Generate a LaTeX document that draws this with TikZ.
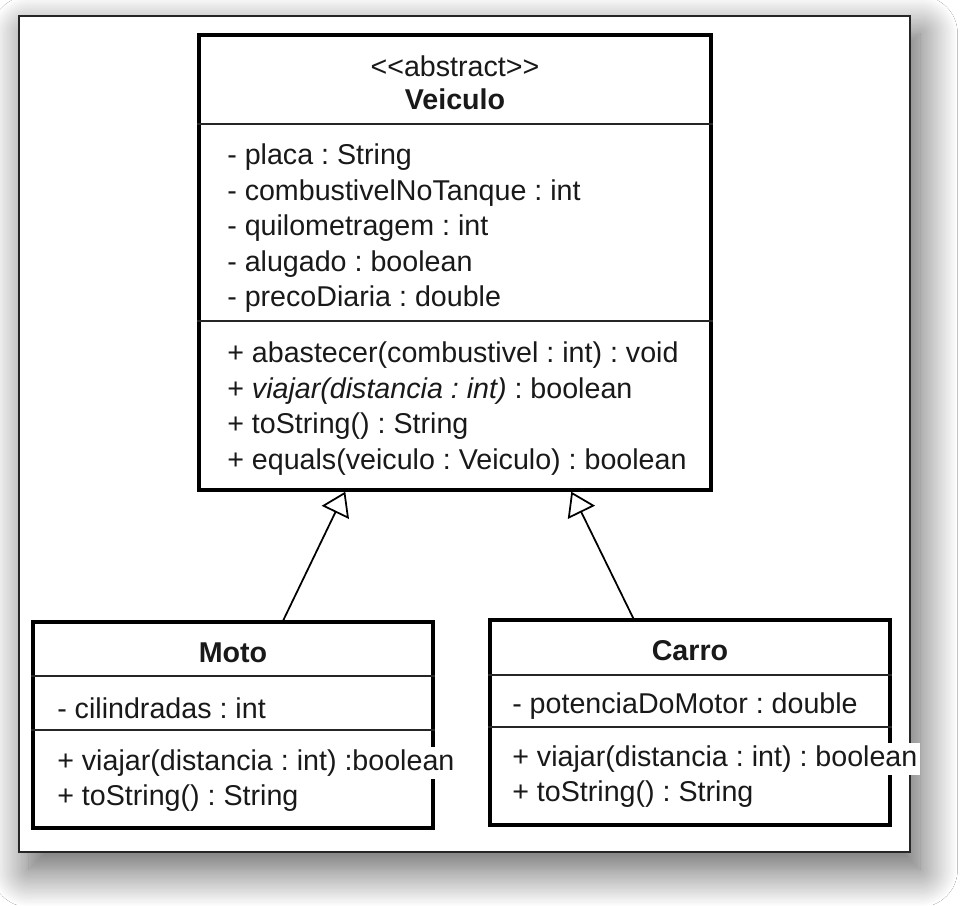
\documentclass[tikz,border=0pt]{standalone}
\usepackage{fontspec}
\setmainfont{Liberation Sans}
\usepackage{tikz}
\usetikzlibrary{calc,arrows.meta,shadows.blur}
\def\classnode{\node[draw=black, line width=2pt, fill=white, inner sep=0pt]}
\def\drawsep{\draw[color=black!85, line width=1.3pt]}
\def\drawinh{\draw[line width=1pt, -{Triangle[open, length=0.46cm, width=0.6cm, line width=1pt]}]}
\def\membernode{\node[anchor=west, inner sep=1.5pt, fill=white, text=black!90]}
\def\headnode{\node[inner sep=0pt, text=black!90]}

\begin{document}
\frenchspacing
\fontsize{16.3}{19}\selectfont
\begin{tikzpicture}[x=0.02cm,y=-0.02cm]
\useasboundingbox (0,0) rectangle (972,905);
\fill[white] (0,0) rectangle (972,905);

% the sheet with its soft shadow
\draw[line width=1pt, black!85, fill=white, blur shadow={shadow xshift=0.2cm, shadow yshift=-0.35cm, shadow blur radius=0.75cm, shadow blur steps=30, shadow opacity=65}] (19,16) rectangle (910,852);

% ----------- class boxes
\classnode[minimum width=10.24cm, minimum height=9.1cm] (veiculo) at (455,262.5) {};
\classnode[minimum width=8cm, minimum height=4.12cm] (moto) at (233,725) {};
\classnode[minimum width=8cm, minimum height=4.1cm] (carro) at (690,722.5) {};

% compartments
\drawsep ($ (veiculo.north west) + (0,91) $) to ($ (veiculo.north east) + (0,91) $);
\drawsep ($ (veiculo.north west) + (0,288) $) to ($ (veiculo.north east) + (0,288) $);
\drawsep ($ (moto.north west) + (0,56) $) to ($ (moto.north east) + (0,56) $);
\drawsep ($ (moto.north west) + (0,110) $) to ($ (moto.north east) + (0,110) $);
\drawsep ($ (carro.north west) + (0,57) $) to ($ (carro.north east) + (0,57) $);
\drawsep ($ (carro.north west) + (0,109) $) to ($ (carro.north east) + (0,109) $);

% ----------- generalisations
\coordinate (moto_top) at ($ (moto.north west) + (252,0) $);
\coordinate (carro_top) at ($ (carro.north west) + (145,0) $);
\coordinate (veiculo_left) at ($ (veiculo.south west) + (148,0) $); % tip of the left triangle
\coordinate (veiculo_right) at ($ (veiculo.south west) + (374,0) $); % tip of the right triangle
\drawinh (moto_top) to (veiculo_left);
\drawinh (carro_top) to (veiculo_right);

% ----------- Veiculo
\headnode (veiculo_stereo) at ($ (veiculo.north) + (0,33) $) {<{}<abstract>{}>};
\headnode[font=\bfseries] (veiculo_name) at ($ (veiculo.north) + (0,66) $) {Veiculo};
\foreach \txt [count=\i from 0] in {- placa : String, - combustivelNoTanque : int, - quilometragem : int, - alugado : boolean, - precoDiaria : double}
  \membernode (veiculo_attr\i) at ($ (veiculo.north west) + (27,124+35.5*\i) $) {\txt};
\foreach \txt [count=\i from 0] in {+ abastecer(combustivel : int) : void, + \textit{viajar(distancia : int)} : boolean, + toString() : String, + equals(veiculo : Veiculo) : boolean}
  \membernode (veiculo_op\i) at ($ (veiculo.north west) + (27,322+35.5*\i) $) {\txt};

% ----------- Moto
\headnode[font=\bfseries] (moto_name) at ($ (moto.north) + (0,33) $) {Moto};
\membernode (moto_attr) at ($ (moto.north west) + (23,88) $) {- cilindradas : int};
\membernode (moto_viajar) at ($ (moto.north west) + (23,143) $) {+ viajar(distancia : int) :boolean};
\membernode (moto_tostring) at ($ (moto.north west) + (23,178) $) {+ toString() : String};

% ----------- Carro
\headnode[font=\bfseries] (carro_name) at ($ (carro.north) + (0,32) $) {Carro};
\membernode (carro_attr) at ($ (carro.north west) + (21,88) $) {- potenciaDoMotor : double};
\membernode (carro_viajar) at ($ (carro.north west) + (21,141) $) {+ viajar(distancia : int) : boolean};
\membernode (carro_tostring) at ($ (carro.north west) + (21,176) $) {+ toString() : String};
\end{tikzpicture}
\end{document}
